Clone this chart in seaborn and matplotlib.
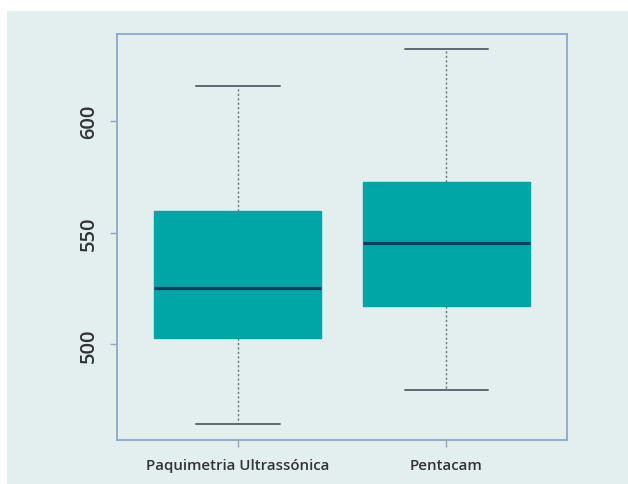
import matplotlib
matplotlib.use("Agg")
import matplotlib.pyplot as plt
from matplotlib.patches import Rectangle
import seaborn as sns
import pandas as pd

# five-number summaries (min, q1, median, q3, max)
categories = ["Paquimetria Ultrassónica", "Pentacam"]
paquimetria = [464.2, 502.7, 525.2, 559.6, 615.5]
pentacam = [479.7, 517.2, 545.6, 572.5, 632.3]
yticks = [500, 550, 600]

df = pd.DataFrame({
    "metodo": [categories[0]] * len(paquimetria) + [categories[1]] * len(pentacam),
    "espessura": paquimetria + pentacam,
})

sns.set_style("white")
plt.rcParams["font.family"] = ["Open Sans", "DejaVu Sans"]

bg = "#e3eeee"
frame = "#8ea6c8"
teal = "#00a6a6"
txt = "#303434"

fig = plt.figure(figsize=(6.28, 4.85), dpi=100, facecolor="white")
fig.patches.append(Rectangle((7 / 628, 0), 1, (485 - 12) / 485,
                             transform=fig.transFigure, facecolor=bg,
                             edgecolor="none", zorder=-10))
ax = fig.add_axes([116.7 / 628, (485 - 440.7) / 485, 450 / 628, 405.7 / 485])
ax.set_facecolor(bg)

sns.boxplot(data=df, x="metodo", y="espessura", ax=ax, color=teal,
            linecolor=teal, width=0.8, whis=1.5, showfliers=False,
            saturation=1, linewidth=1,
            boxprops={"facecolor": teal, "edgecolor": teal},
            medianprops={"color": "#0b3d5c", "linewidth": 2.3},
            whiskerprops={"color": "#6b7478", "linewidth": 1,
                          "linestyle": (0, (1.6, 1.6))},
            capprops={"color": "#5f6a70", "linewidth": 1.4})

ax.set_xlim(-0.581, 1.577)
ax.set_ylim(457.3, 639.0)
ax.set_yticks(yticks)
ax.set_yticklabels([str(v) for v in yticks], rotation=90, va="center",
                   fontsize=14.5, color=txt, fontweight="semibold")
ax.set_xticks([0, 1])
ax.set_xticklabels(categories, fontsize=10.8, color=txt,
                   fontweight="semibold")
ax.set_xlabel("")
ax.set_ylabel("")
ax.tick_params(axis="both", length=5, width=1, color=frame, left=True,
               bottom=True)
ax.tick_params(axis="y", pad=8)
ax.tick_params(axis="x", pad=8)
for sp in ax.spines.values():
    sp.set_visible(True)
    sp.set_color(frame)
    sp.set_linewidth(1.3)

fig.savefig("out.png", dpi=100, facecolor="white")
